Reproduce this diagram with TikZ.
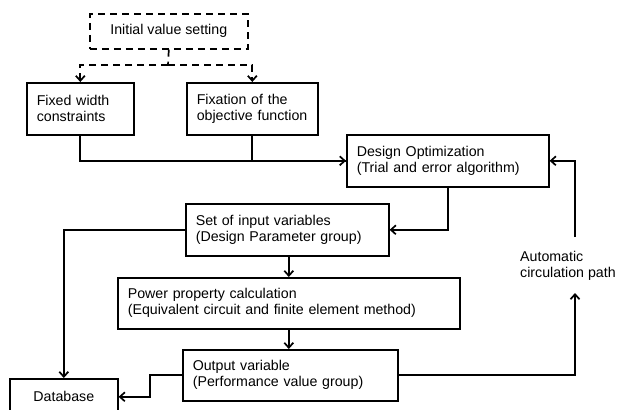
\documentclass[tikz,border=0pt]{standalone}
\usepackage{fontspec}
\setmainfont{Liberation Sans}
\usetikzlibrary{arrows.meta,calc}
\tikzset{
  every node/.style={font=\fontsize{14.2}{16}\selectfont},
  box/.style={draw, line width=1.6pt, rectangle, anchor=north west, inner xsep=10pt, inner ysep=0pt, align=left},
  cbox/.style={draw, line width=1.6pt, rectangle, anchor=north west, inner sep=0pt, align=center},
  conn/.style={line width=1.7pt, color=black},
  arr/.style={-{Straight Barb[length=5pt,width=9pt]}},
  dsh/.style={dash pattern=on 7pt off 5pt}
}
\begin{document}
\begin{tikzpicture}[x=1pt,y=-1pt]
\useasboundingbox (0,0) rectangle (617,409);
\clip (0,0) rectangle (617,409);
\node[cbox, dsh, minimum width=158pt, minimum height=35pt] (init) at (89,13) {Initial value setting};
\node[box, text width=87pt, minimum height=52pt] (fixed) at (26,82) {Fixed width\\constraints};
\node[box, text width=111pt, minimum height=52pt] (fix) at (186,82) {Fixation of the\\objective function};
\node[box, text width=182pt, minimum height=52pt] (opt) at (346,134) {Design Optimization\\(Trial and error algorithm)};
\node[box, text width=183pt, minimum height=52pt] (set) at (185,203) {Set of input variables\\(Design Parameter group)};
\node[box, text width=322pt, minimum height=51pt] (pow) at (117,277) {Power property calculation\\(Equivalent circuit and finite element method)};
\node[box, text width=195pt, minimum height=51pt] (out) at (182,349) {Output variable\\(Performance value group)};
\node[cbox, minimum width=108pt, minimum height=36pt] (db) at (9,378) {Database};
\node[anchor=north west, inner sep=0pt, align=left] (lab) at (520,251) {Automatic\\circulation path};

\coordinate (j) at (168,65);
\coordinate (od) at (448,186);
\coordinate (ob) at ($(out.west)+(-32,0)$);
\coordinate (atop) at (575,237);
\coordinate (abot) at (575,293);

\draw[conn,dsh] (init.south) -- (j);
\draw[conn,dsh,arr] (j) -| (fixed.north);
\draw[conn,dsh,arr] (j) -| (fix.north);
\draw[conn] (fix.south) |- (opt.west);
\draw[conn,arr] (fixed.south) |- (opt.west);
\draw[conn,arr] (od) |- (set.east);
\draw[conn,arr] (set.west) -| (db.north);
\draw[conn,arr] (set.south -| pow.north) -- (pow.north);
\draw[conn,arr] (pow.south) -- (out.north -| pow.south);
\draw[conn,arr] (out.west) -- (ob) |- (db.east);
\draw[conn,arr] (out.east) -| (abot);
\draw[conn,arr] (atop) |- (opt.east);
\end{tikzpicture}
\end{document}
